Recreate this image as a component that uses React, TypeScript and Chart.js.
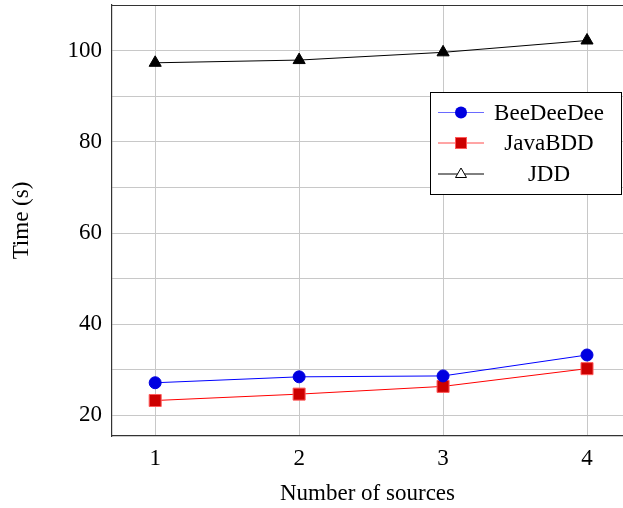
import React, { useEffect, useRef } from 'react';
import { Chart, registerables } from 'chart.js';

Chart.register(...registerables);

const sources = [1, 2, 3, 4];
const beeDeeDee = [27.1, 28.4, 28.6, 33.2];
const javaBDD = [23.2, 24.6, 26.3, 30.2];
const jdd = [97.4, 98.0, 99.7, 102.3];
const yGridValues = [20, 30, 40, 50, 60, 70, 80, 90, 100, 110];
const yLabelValues = [20, 40, 60, 80, 100];
const seriesNames = ['BeeDeeDee', 'JavaBDD', 'JDD'];
const xTitle = 'Number of sources';
const yTitle = 'Time (s)';

const FONT = "'Liberation Serif', 'Times New Roman', serif";
const FS = 23;

const boxPlugin = {
  id: 'boxPlugin',
  afterDatasetsDraw(chart: any) {
    const { ctx, chartArea } = chart;
    ctx.save();
    ctx.strokeStyle = '#333333';
    ctx.lineWidth = 1.2;
    ctx.beginPath();
    ctx.moveTo(chartArea.left, chartArea.top + 0.5);
    ctx.lineTo(chartArea.right + 10, chartArea.top + 0.5);
    ctx.stroke();
    ctx.restore();
  },
};

const legendPlugin = {
  id: 'pgfLegend',
  afterDraw(chart: any) {
    const { ctx } = chart;
    const bx = 430.5, by = 92.5, bw = 191, bh = 102;
    ctx.save();
    ctx.fillStyle = '#ffffff';
    ctx.fillRect(bx, by, bw, bh);
    ctx.strokeStyle = '#000000';
    ctx.lineWidth = 1;
    ctx.strokeRect(bx, by, bw, bh);
    const rows = [112.5, 143, 174];
    const lineColors = ['#6a6aff', '#ff4a4a', '#000000'];
    rows.forEach((ry, i) => {
      ctx.strokeStyle = lineColors[i];
      ctx.lineWidth = 1;
      ctx.beginPath();
      ctx.moveTo(438, ry);
      ctx.lineTo(484, ry);
      ctx.stroke();
      const mx = 461;
      if (i === 0) {
        ctx.fillStyle = '#0000e0';
        ctx.beginPath();
        ctx.arc(mx, ry, 6, 0, Math.PI * 2);
        ctx.fill();
      } else if (i === 1) {
        ctx.fillStyle = '#cc0000';
        ctx.strokeStyle = '#ff5a5a';
        ctx.fillRect(mx - 6, ry - 6, 12, 12);
        ctx.strokeRect(mx - 5.5, ry - 5.5, 11, 11);
      } else {
        ctx.fillStyle = '#ffffff';
        ctx.strokeStyle = '#000000';
        ctx.beginPath();
        ctx.moveTo(mx, ry - 6);
        ctx.lineTo(mx + 5.5, ry + 3.5);
        ctx.lineTo(mx - 5.5, ry + 3.5);
        ctx.closePath();
        ctx.fill();
        ctx.stroke();
      }
      ctx.fillStyle = '#000000';
      ctx.font = `${FS}px ${FONT}`;
      ctx.textAlign = 'center';
      ctx.textBaseline = 'middle';
      ctx.fillText(seriesNames[i], 549, ry + 1);
    });
    ctx.restore();
  },
};

export default function App() {
  const ref = useRef<HTMLCanvasElement>(null);
  useEffect(() => {
    if (!ref.current) return;
    const toPts = (arr: number[]) => sources.map((x, i) => ({ x, y: arr[i] }));
    const chart = new Chart(ref.current, {
      type: 'line',
      data: {
        datasets: [
          {
            label: seriesNames[0],
            data: toPts(beeDeeDee),
            borderColor: '#0000ff',
            borderWidth: 1,
            pointStyle: 'circle',
            pointRadius: 6,
            pointBackgroundColor: '#0000e0',
            pointBorderColor: '#0000e0',
            pointBorderWidth: 1,
          },
          {
            label: seriesNames[1],
            data: toPts(javaBDD),
            borderColor: '#ff0000',
            borderWidth: 1,
            pointStyle: 'rect',
            pointRadius: 8.5,
            pointBackgroundColor: '#cc0000',
            pointBorderColor: '#ff5a5a',
            pointBorderWidth: 1,
          },
          {
            label: seriesNames[2],
            data: toPts(jdd),
            borderColor: '#000000',
            borderWidth: 1,
            pointStyle: 'triangle',
            pointRadius: 7,
            pointBackgroundColor: '#000000',
            pointBorderColor: '#000000',
            pointBorderWidth: 1,
          },
        ],
      },
      options: {
        animation: false,
        responsive: false,
        devicePixelRatio: 1,
        layout: { autoPadding: false, padding: { top: 5, left: 0, right: 0, bottom: 0 } },
        plugins: { legend: { display: false }, tooltip: { enabled: false } },
        scales: {
          x: {
            type: 'linear',
            min: 0.7,
            max: 4.25,
            afterBuildTicks: (s: any) => {
              s.ticks = sources.map((v) => ({ value: v }));
            },
            afterFit: (s: any) => {
              s.height = 72;
              s.paddingLeft = 0;
              s.paddingRight = 0;
              s.paddingTop = 0;
              s.paddingBottom = 0;
            },
            grid: { color: '#c8c8c8', lineWidth: 1, drawTicks: false },
            border: { color: '#333333', width: 1.2 },
            ticks: {
              padding: 9,
              color: '#000000',
              font: { family: FONT, size: FS },
              callback: (v: any) => String(v),
            },
            title: {
              display: true,
              text: xTitle,
              color: '#000000',
              font: { family: FONT, size: FS },
              padding: { top: 0, bottom: 0 },
            },
          },
          y: {
            type: 'linear',
            min: 15.4,
            max: 110.1,
            afterBuildTicks: (s: any) => {
              s.ticks = yGridValues.map((v) => ({ value: v }));
            },
            afterFit: (s: any) => {
              s.width = 112;
              s.paddingLeft = 0;
              s.paddingRight = 0;
              s.paddingTop = 0;
              s.paddingBottom = 0;
            },
            grid: { color: '#c8c8c8', lineWidth: 1, drawTicks: false },
            border: { color: '#333333', width: 1.2 },
            ticks: {
              padding: 10,
              color: '#000000',
              font: { family: FONT, size: FS },
              callback: (v: any) => (yLabelValues.includes(Number(v)) ? String(v) : ''),
            },
            title: {
              display: true,
              text: yTitle,
              color: '#000000',
              font: { family: FONT, size: FS },
              padding: { top: 8, bottom: 0 },
            },
          },
        },
      },
      plugins: [boxPlugin, legendPlugin],
    });
    return () => chart.destroy();
  }, []);
  return (
    <div style={{ position: 'absolute', left: 0, top: 0, width: 623, height: 508 }}>
      <canvas ref={ref} width={623} height={508} />
    </div>
  );
}
